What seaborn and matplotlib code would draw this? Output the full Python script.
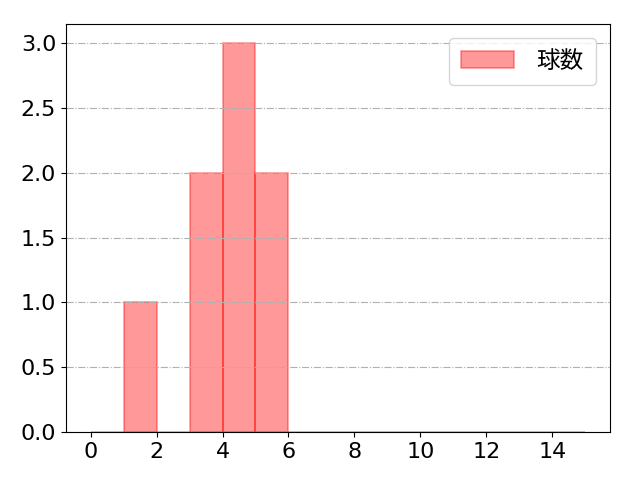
import matplotlib
matplotlib.use("Agg")
import matplotlib.pyplot as plt
import seaborn as sns
import pandas as pd

pitch_counts = [1, 3, 3, 4, 4, 4, 5, 5]
bin_edges = list(range(0, 16))
series_label = "球数"

plt.rcParams['font.family'] = ['DejaVu Sans', 'Noto Sans CJK JP']
plt.rcParams['font.size'] = 16

df = pd.DataFrame({"x": pitch_counts})

fig, ax = plt.subplots(figsize=(6.4, 4.8), dpi=100)
sns.histplot(data=df, x="x", bins=bin_edges, color="red", alpha=0.4,
             edgecolor=(1, 0, 0, 0.4), linewidth=1.2, label=series_label, ax=ax)
ax.set_xlim(-0.75, 15.75)
ax.set_ylim(0, 3.15)
ax.set_xticks(range(0, 15, 2))
ax.set_yticks([0, 0.5, 1.0, 1.5, 2.0, 2.5, 3.0])
ax.yaxis.grid(True, linestyle='-.', color='#b0b0b0')
ax.set_xlabel("")
ax.set_ylabel("")
ax.legend(loc="upper right", handlelength=2.25, handletextpad=0.95,
          borderpad=0.5, borderaxespad=0.6,
          prop={'family': ['Noto Sans CJK JP'], 'size': 17})
fig.subplots_adjust(left=0.103, right=0.953, top=0.95, bottom=0.1)
fig.savefig("out.png", dpi=100)
